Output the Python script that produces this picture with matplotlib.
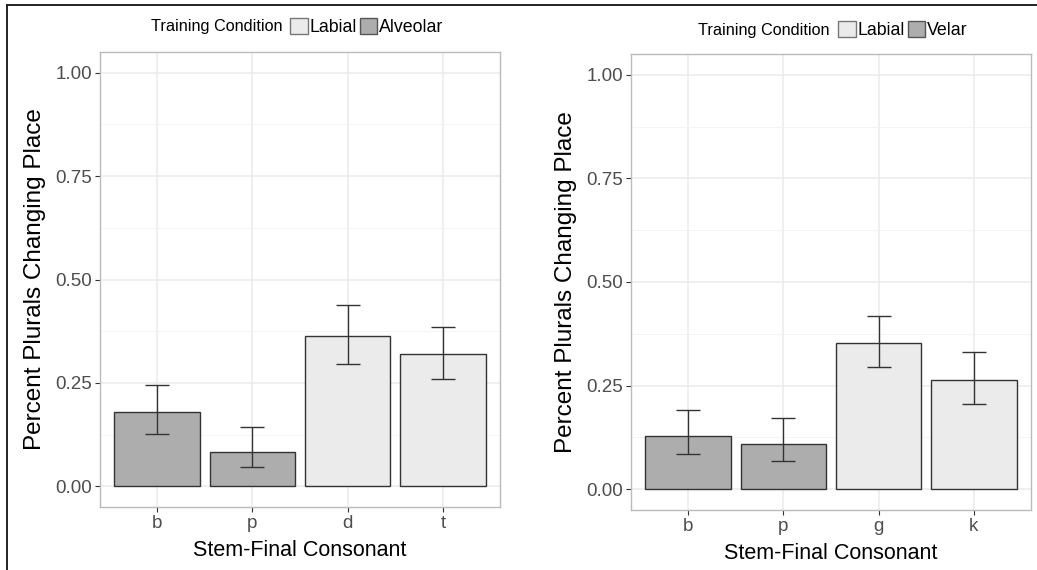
import numpy as np
import matplotlib.pyplot as plt
from matplotlib.patches import Patch
from matplotlib.lines import Line2D

plt.rcParams['font.family'] = ['Liberation Sans', 'DejaVu Sans']

# data
left_cats = ['b', 'p', 'd', 't']
left_vals = [0.179, 0.084, 0.363, 0.319]
left_lo = [0.127, 0.047, 0.295, 0.260]
left_hi = [0.244, 0.143, 0.438, 0.385]
left_group = ['Alveolar', 'Alveolar', 'Labial', 'Labial']

right_cats = ['b', 'p', 'g', 'k']
right_vals = [0.129, 0.110, 0.354, 0.264]
right_lo = [0.085, 0.068, 0.294, 0.206]
right_hi = [0.192, 0.172, 0.418, 0.332]
right_group = ['Velar', 'Velar', 'Labial', 'Labial']

yticks = [0.0, 0.25, 0.5, 0.75, 1.0]
ytick_labels = ['0.00', '0.25', '0.50', '0.75', '1.00']

LIGHT = '#EBEBEB'
DARK = '#ADADAD'
EDGE = '#333333'

W, H = 1037, 570
fig = plt.figure(figsize=(W / 100, H / 100), dpi=100)


def panel(rect, cats, vals, lo, hi, groups):
    ax = fig.add_axes(rect)
    x = np.arange(1, len(cats) + 1)
    colors = [LIGHT if g == 'Labial' else DARK for g in groups]
    ax.bar(x, vals, width=0.9, color=colors, edgecolor=EDGE, linewidth=1.0, zorder=3)
    err = [np.array(vals) - np.array(lo), np.array(hi) - np.array(vals)]
    ax.errorbar(x, vals, yerr=err, fmt='none', ecolor=EDGE, elinewidth=1.0,
                capsize=8.3, capthick=1.0, zorder=4)
    ax.set_xlim(0.4, len(cats) + 0.6)
    ax.set_ylim(-0.05, 1.05)
    ax.set_xticks(x)
    ax.set_xticklabels(cats)
    ax.set_yticks(yticks)
    ax.set_yticklabels(ytick_labels)
    ax.set_yticks([0.125, 0.375, 0.625, 0.875], minor=True)
    ax.tick_params(axis='both', which='major', length=3.5, width=0.8, color=EDGE,
                   labelsize=13.5, labelcolor='#4D4D4D', pad=2)
    ax.tick_params(axis='y', which='minor', length=0)
    ax.grid(True, which='major', color='#EBEBEB', linewidth=1.1, zorder=0)
    ax.grid(True, which='minor', axis='y', color='#F2F2F2', linewidth=0.6, zorder=0)
    ax.set_axisbelow(True)
    for s in ax.spines.values():
        s.set_color('#BBBBBB')
        s.set_linewidth(1.0)
    ax.set_xlabel('Stem-Final Consonant', fontsize=15.5, labelpad=6)
    ax.set_ylabel('Percent Plurals Changing Place', fontsize=17.5, labelpad=7)
    return ax


ax1 = panel([100 / W, 1 - 507 / H, 400 / W, 455 / H],
            left_cats, left_vals, left_lo, left_hi, left_group)
ax2 = panel([631 / W, 1 - 510 / H, 400 / W, 456 / H],
            right_cats, right_vals, right_lo, right_hi, right_group)


def top_legend(xsplit, ypix, other):
    fig.text(xsplit / W, 1 - ypix / H, 'Training Condition', ha='right', va='center',
             fontsize=11.7)
    handles = [Patch(facecolor=LIGHT, edgecolor='#777777', label='Labial'),
               Patch(facecolor=DARK, edgecolor='#555555', label=other)]
    fig.legend(handles=handles, loc='center left',
               bbox_to_anchor=((xsplit + 8) / W, 1 - ypix / H),
               ncol=2, frameon=False, fontsize=12.8, borderpad=0,
               handlelength=1.0, handleheight=1.0, handletextpad=0.1,
               columnspacing=0.15, borderaxespad=0)


top_legend(282, 27, 'Alveolar')
top_legend(830, 30, 'Velar')

# outer frame lines (top and left)
fig.add_artist(Line2D([7 / W, 7 / W], [0, 1 - 5 / H], color='#222222', linewidth=1.4))
fig.add_artist(Line2D([7 / W, 1], [1 - 5 / H, 1 - 5 / H], color='#222222', linewidth=1.4))

fig.savefig('out.png', dpi=100)
